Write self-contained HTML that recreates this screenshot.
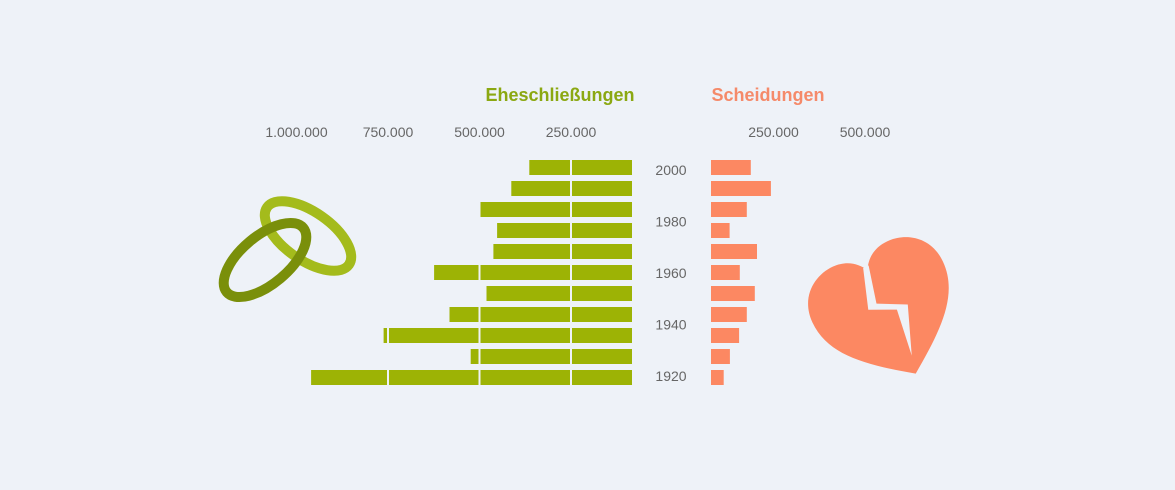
<!DOCTYPE html>
<html><head><meta charset="utf-8"><style>
body{margin:0;background:#eef2f8;font-family:"Liberation Sans",sans-serif;}
svg{display:block}
</style></head><body>
<svg id="chart" width="1175" height="490" viewBox="0 0 1175 490">
<rect x="0" y="0" width="1175" height="490" fill="#eef2f8"/>
<text x="560" y="101" text-anchor="middle" font-size="18" fill="#8ba812" font-weight="bold">Eheschließungen</text>
<text x="768" y="101" text-anchor="middle" font-size="18" fill="#f58a6a" font-weight="bold">Scheidungen</text>
<g>
<ellipse cx="308" cy="236" rx="50" ry="24" transform="rotate(35 308 236)" fill="none" stroke="#a4bb1c" stroke-width="10"/>
<ellipse cx="265" cy="260" rx="50" ry="24" transform="rotate(-40 265 260)" fill="none" stroke="#7a8f0a" stroke-width="10"/>
</g>
<g transform="translate(887 312) rotate(-25)">
<path d="M0 68 C-40 40 -72 15 -72 -22 C-72 -50 -50 -64 -30 -64 C-15 -64 -5 -56 0 -46 C5 -56 15 -64 30 -64 C50 -64 72 -50 72 -22 C72 15 40 40 0 68 Z" fill="#fc8862"/>
<path d="M-3 -50 L3 -50 L-6 -12 L22 2 L4 50 L10 2 L-16 -10 Z" fill="#eef2f8"/>
</g>
<g id="gMar"></g>
<g id="gDiv"></g>
<g id="gAx"></g>
</svg>
<script>
var years=[2000,1992,1984,1976,1968,1960,1952,1944,1936,1928,1920];
var marriages=[364000,413000,498000,452000,462000,624000,481000,582000,762000,524000,960000];
var divorces=[188000,243000,177000,130000,205000,158000,199000,177000,156000,131000,114000];
var mTicks=[250000,500000,750000,1000000];
var mTickLabels=["250.000","500.000","750.000","1.000.000"];
var dTicks=[250000,500000];
var dTickLabels=["250.000","500.000"];
var yearLabels=[2000,1980,1960,1940,1920];
var NS="http://www.w3.org/2000/svg";
function xm(v){return 662.5-v*0.000366;}
function xd(v){return 682+v*0.000366;}
function yRow(yr){return 160+(2000-yr)/8*21;}
function yLab(yr){return 175+(2000-yr)/80*206;}
function mk(tag,p){var e=document.createElementNS(NS,tag);p.appendChild(e);return e;}
function sa(e,k,v){e.setAttribute(k,String(v));}
var gM=document.getElementById('gMar'),gD=document.getElementById('gDiv'),gA=document.getElementById('gAx');
for(var i=0;i<years.length;i++){
 var yr=years[i];
 var x0=xm(marriages[i]);
 var r=mk('rect',gM);
 sa(r,'x',x0.toFixed(1));sa(r,'y',yRow(yr).toFixed(1));sa(r,'width',(632-x0).toFixed(1));sa(r,'height',15);sa(r,'fill','#9db305');
 
 
 var x1=xd(divorces[i]);
 var s=mk('rect',gD);
 sa(s,'x',711);sa(s,'y',yRow(yr).toFixed(1));sa(s,'width',(x1-711).toFixed(1));sa(s,'height',15);sa(s,'fill','#fc8862');
 
 
}
for(var j=0;j<mTicks.length;j++){
 var tx=xm(mTicks[j]);
 if(mTicks[j]<1000000){
  var g=mk('rect',gM);
  sa(g,'x',(tx-1).toFixed(1));sa(g,'y',156);sa(g,'width',2);sa(g,'height',232);sa(g,'fill','#eef2f8');
  
  
 }
 var t=mk('text',gA);
 sa(t,'x',tx.toFixed(1));sa(t,'y',137);sa(t,'text-anchor','middle');sa(t,'font-size',14);sa(t,'fill','#666');
 t.textContent=mTickLabels[j];
 
 
}
for(var k=0;k<dTicks.length;k++){
 var u=mk('text',gA);
 sa(u,'x',xd(dTicks[k]).toFixed(1));sa(u,'y',137);sa(u,'text-anchor','middle');sa(u,'font-size',14);sa(u,'fill','#666');
 u.textContent=dTickLabels[k];
 
 
}
for(var q=0;q<yearLabels.length;q++){
 var w=mk('text',gA);
 sa(w,'x',671);sa(w,'y',yLab(yearLabels[q]).toFixed(1));sa(w,'text-anchor','middle');sa(w,'font-size',14);sa(w,'fill','#666');
 w.textContent=yearLabels[q];
 
 
}
</script>
</body></html>
